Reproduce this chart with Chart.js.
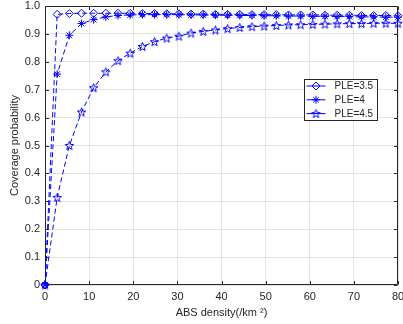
<!DOCTYPE html>
<html>
<head>
<meta charset="utf-8">
<script src="https://cdn.jsdelivr.net/npm/chart.js@4.4.1/dist/chart.umd.min.js"></script>
<style>
    html, body { margin: 0; padding: 0; background: #fff; overflow: hidden; }
</style>
</head>
<body>
<canvas id="coverageChart" width="410" height="324"></canvas>
<script>
// --- Data ---
const densityValues = [0, 2.76, 5.52, 8.28, 11.03, 13.79, 16.55, 19.31, 22.07, 24.83, 27.59, 30.34, 33.10, 35.86, 38.62,
    41.38, 44.14, 46.90, 49.66, 52.41, 55.17, 57.93, 60.69, 63.45, 66.21, 68.97, 71.72, 74.48, 77.24, 80];
const ple35 = [0, 0.970, 0.973, 0.974, 0.974, 0.974, 0.974, 0.974, 0.973, 0.973, 0.972, 0.972, 0.971, 0.971, 0.970,
    0.970, 0.970, 0.969, 0.969, 0.969, 0.968, 0.968, 0.968, 0.967, 0.967, 0.967, 0.966, 0.966, 0.966, 0.965];
const ple4 = [0, 0.756, 0.895, 0.937, 0.951, 0.961, 0.966, 0.968, 0.969, 0.969, 0.969, 0.969, 0.968, 0.968, 0.967,
    0.967, 0.966, 0.966, 0.965, 0.965, 0.964, 0.964, 0.963, 0.963, 0.962, 0.962, 0.961, 0.961, 0.960, 0.960];
const ple45 = [0, 0.314, 0.500, 0.620, 0.707, 0.764, 0.804, 0.831, 0.855, 0.872, 0.885, 0.892, 0.903, 0.909, 0.914,
    0.919, 0.923, 0.926, 0.928, 0.930, 0.932, 0.933, 0.934, 0.935, 0.936, 0.937, 0.937, 0.938, 0.938, 0.938];
const seriesLabels = ['PLE=3.5', 'PLE=4', 'PLE=4.5'];
const xTickValues = [0, 10, 20, 30, 40, 50, 60, 70, 80];
const yTickValues = [0, 0.1, 0.2, 0.3, 0.4, 0.5, 0.6, 0.7, 0.8, 0.9, 1];

const blue = '#0000ff';
const axisColor = '#262626';
const fontFamily = '"Liberation Sans", Arial, sans-serif';

// --- Pentagram marker (Chart.js has no 5-point star) ---
function makePentagram(size) {
    const c = document.createElement('canvas');
    c.width = size; c.height = size;
    const g = c.getContext('2d');
    const cx = size / 2, cy = size / 2 + 0.4;
    const outer = size / 2 - 1, inner = outer * 0.42;
    g.beginPath();
    for (let i = 0; i < 10; i++) {
        const r = i % 2 === 0 ? outer : inner;
        const a = -Math.PI / 2 + i * Math.PI / 5;
        const px = cx + r * Math.cos(a), py = cy + r * Math.sin(a);
        if (i === 0) g.moveTo(px, py); else g.lineTo(px, py);
    }
    g.closePath();
    g.strokeStyle = blue;
    g.lineWidth = 1;
    g.stroke();
    return c;
}
const pentagram = makePentagram(11);

function toPoints(values) {
    return values.map((v, i) => ({ x: densityValues[i], y: v }));
}

const markerStyles = [
    { pointStyle: 'rectRot', pointRadius: 4 },
    { pointStyle: 'star', pointRadius: 4 },
    { pointStyle: pentagram, pointRadius: 5 }
];

const datasets = [ple35, ple4, ple45].map((values, i) => ({
    label: seriesLabels[i],
    data: toPoints(values),
    borderColor: blue,
    backgroundColor: 'rgba(0,0,0,0)',
    borderWidth: 1,
    borderDash: [5, 3],
    pointStyle: markerStyles[i].pointStyle,
    pointRadius: markerStyles[i].pointRadius,
    pointBorderColor: blue,
    pointBackgroundColor: 'rgba(0,0,0,0)',
    pointBorderWidth: 1,
    tension: 0,
    clip: false
}));

// --- Box and inward ticks like the original figure ---
const framePlugin = {
    id: 'frame',
    beforeDatasetsDraw(chart) {
        const { ctx, chartArea: a, scales: { x, y } } = chart;
        const L = Math.round(a.left) + 0.5, R = Math.round(a.right) - 0.5;
        const T = Math.round(a.top) + 0.5, B = Math.round(a.bottom) - 0.5;
        ctx.save();
        ctx.strokeStyle = axisColor;
        ctx.lineWidth = 1;
        ctx.beginPath();
        ctx.rect(L, T, R - L, B - T);
        x.ticks.forEach(t => {
            const px = Math.round(x.getPixelForValue(t.value)) + 0.5;
            ctx.moveTo(px, B); ctx.lineTo(px, B - 3.5);
            ctx.moveTo(px, T); ctx.lineTo(px, T + 3.5);
        });
        y.ticks.forEach(t => {
            const py = Math.round(y.getPixelForValue(t.value)) + 0.5;
            ctx.moveTo(L, py); ctx.lineTo(L + 3.5, py);
            ctx.moveTo(R, py); ctx.lineTo(R - 3.5, py);
        });
        ctx.stroke();
        ctx.restore();
    }
};

// --- Legend box drawn inside the plot ---
const legendPlugin = {
    id: 'boxLegend',
    afterDraw(chart) {
        const { ctx, chartArea: a } = chart;
        const w = 73, h = 41;
        const left = Math.round(a.right - 21 - w) + 0.5;
        const top = 79.5;
        ctx.save();
        ctx.fillStyle = '#ffffff';
        ctx.fillRect(left, top, w, h);
        ctx.strokeStyle = axisColor;
        ctx.lineWidth = 1;
        ctx.strokeRect(left, top, w, h);
        ctx.font = '10px ' + fontFamily;
        ctx.textBaseline = 'middle';
        chart.data.datasets.forEach((ds, i) => {
            const cy = top + 6.5 + i * 13.8;
            ctx.strokeStyle = ds.borderColor;
            ctx.fillStyle = 'rgba(0,0,0,0)';
            ctx.lineWidth = 1;
            ctx.setLineDash([]);
            ctx.beginPath();
            ctx.moveTo(left + 2, cy);
            ctx.lineTo(left + 21, cy);
            ctx.stroke();
            Chart.helpers.drawPoint(ctx, {
                pointStyle: ds.pointStyle,
                radius: ds.pointRadius,
                rotation: 0,
                borderWidth: 1
            }, left + 11.5, cy);
            ctx.fillStyle = axisColor;
            ctx.fillText(ds.label, left + 30, cy + 0.5);
        });
        ctx.restore();
    }
};

const ctx = document.getElementById('coverageChart').getContext('2d');
new Chart(ctx, {
    type: 'line',
    data: { datasets: datasets },
    plugins: [framePlugin, legendPlugin],
    options: {
        responsive: false,
        animation: false,
        events: [],
        layout: { padding: { left: 0, right: 12, top: 6, bottom: 0 } },
        plugins: { legend: { display: false }, tooltip: { enabled: false } },
        scales: {
            x: {
                type: 'linear',
                min: 0,
                max: 80,
                afterBuildTicks: s => { s.ticks = xTickValues.map(v => ({ value: v })); },
                afterFit: s => { s.height = 39; s.paddingLeft = 0; s.paddingRight = 0; },
                grid: { color: '#e3e3e3', lineWidth: 1, drawTicks: false },
                border: { display: false },
                ticks: { color: axisColor, padding: 5, maxRotation: 0, autoSkip: false, font: { family: fontFamily, size: 11 } },
                title: { display: true, text: 'ABS density(/km \u00B2)', color: axisColor, padding: { top: 0, bottom: 4 }, font: { family: fontFamily, size: 11 } }
            },
            y: {
                type: 'linear',
                min: 0,
                max: 1,
                afterBuildTicks: s => { s.ticks = yTickValues.map(v => ({ value: v })); },
                afterFit: s => { s.width = 45; s.paddingTop = 0; s.paddingBottom = 0; },
                grid: { color: '#e3e3e3', lineWidth: 1, drawTicks: false },
                border: { display: false },
                ticks: { color: axisColor, padding: 5, autoSkip: false, font: { family: fontFamily, size: 11 } },
                title: { display: true, text: 'Coverage probability', color: axisColor, padding: { top: 8, bottom: 0 }, font: { family: fontFamily, size: 11 } }
            }
        }
    }
});
</script>
</body>
</html>
